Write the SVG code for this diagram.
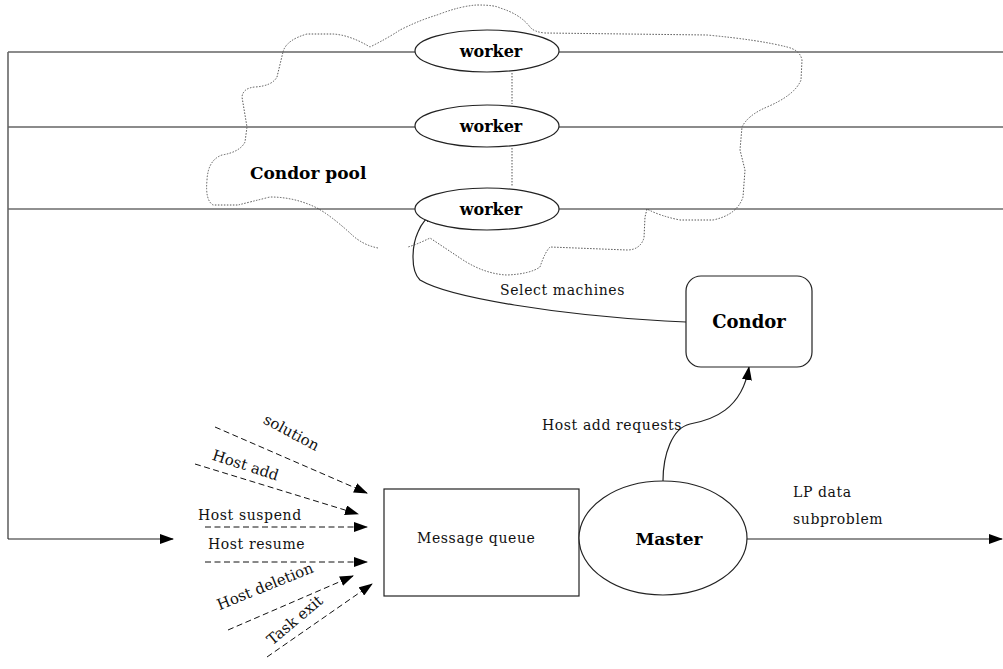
<svg xmlns="http://www.w3.org/2000/svg" width="1003" height="669" viewBox="0 0 1003 669">
<style>
.ln{fill:none;stroke:#222;stroke-width:1.2}
.lg{fill:none;stroke:#666;stroke-width:1.6}
.dash{fill:none;stroke:#111;stroke-width:1;stroke-dasharray:6 3.5}
.cloud{fill:none;stroke:#555;stroke-width:1;stroke-dasharray:1.5 1.5}
.shape{fill:#fff;stroke:#222;stroke-width:1.2}
.t{font-family:"DejaVu Serif","Liberation Serif",serif;font-size:14px;fill:#111;letter-spacing:0.6px}
.tr{font-family:"DejaVu Serif","Liberation Serif",serif;font-size:15px;fill:#111}
.b{font-family:"DejaVu Serif","Liberation Serif",serif;font-weight:bold;fill:#000}
</style>
<defs>
<marker id="ah" markerUnits="userSpaceOnUse" markerWidth="14" markerHeight="10" refX="13" refY="5" orient="auto">
<path d="M0,0 L14,5 L0,10 z" fill="#000"/>
</marker>
</defs>
<rect width="1003" height="669" fill="#fff"/>

<g id="cloud">
<path class="cloud" d="M283,52 Q286,40 307,34 L333,34 Q350,35 370,47 Q388,38 400,30 Q420,20 437,15 Q460,6 477,5 Q495,5 500,8 Q520,14 530,27 Q534,32 545,33 L707,35 Q760,40 787,47 Q800,50 802,60 L801,80 Q795,95 767,107 Q748,115 742,127 L740,150 L745,170 L743,197 Q737,215 713,220 L680,220 Q660,216 647,209 L645,217 L644,238 Q640,250 627,250 L550,247 Q545,252 540,267 Q530,274 507,275 Q485,274 463,260 L430,238 Q418,244 408,247 M378,248 Q362,245 350,233 Q330,215 317,208 Q295,197 270,197 Q250,202 238,205 L213,205 Q205,200 207,180 Q208,160 222,155 Q240,152 245,142 L247,127 L242,97 Q243,88 255,87 Q272,86 277,77 L283,52"/>
<path class="cloud" d="M512,73 L512,104 M512,148 L512,186"/>
</g>

<g id="connectors">
<path class="lg" d="M8,52 L415,52 M559,52 L1003,52"/>
<path class="lg" d="M8,127 L415,127 M559,127 L1003,127"/>
<path class="ln" d="M8,209 L415,209 M559,209 L1003,209"/>
<path class="lg" d="M8,52 L8,539"/>
<path class="ln" d="M8,539 L173,539" marker-end="url(#ah)"/>
<path class="ln" d="M686,322 L665,321 C560,315 450,298 420,280 C410,270 412,245 418,232 C422,222 428,216 436,211" marker-end="url(#ah)"/>
<path class="ln" d="M663,481 C663,455 672,428 690,424 C712,420 742,410 749,367" marker-end="url(#ah)"/>
<path class="ln" d="M747,539 L1002,539" marker-end="url(#ah)"/>
<path class="dash" d="M215,427 L367,493" marker-end="url(#ah)"/>
<path class="dash" d="M195,464 L358,514" marker-end="url(#ah)"/>
<path class="dash" d="M205,527 L367,527" marker-end="url(#ah)"/>
<path class="dash" d="M205,562 L367,562" marker-end="url(#ah)"/>
<path class="dash" d="M228,630 L353,576" marker-end="url(#ah)"/>
<path class="dash" d="M267,657 L372,584" marker-end="url(#ah)"/>
</g>

<g id="worker1">
<ellipse class="shape" cx="487" cy="51" rx="72" ry="21"/>
<text class="b" x="491" y="57" font-size="16" text-anchor="middle">worker</text>
</g>
<g id="worker2">
<ellipse class="shape" cx="487" cy="126" rx="72" ry="21"/>
<text class="b" x="491" y="132" font-size="16" text-anchor="middle">worker</text>
</g>
<g id="worker3">
<ellipse class="shape" cx="487" cy="209" rx="72" ry="21"/>
<text class="b" x="491" y="215" font-size="16" text-anchor="middle">worker</text>
</g>
<g id="condor-pool">
<text class="b" x="250" y="179" font-size="17">Condor pool</text>
</g>
<g id="condor">
<rect class="shape" x="686" y="276" width="126" height="91" rx="15"/>
<text class="b" x="749" y="328" font-size="18" text-anchor="middle">Condor</text>
</g>
<g id="message-queue">
<rect class="shape" x="384" y="489" width="195" height="107"/>
<text class="t" x="417" y="543">Message queue</text>
</g>
<g id="master">
<ellipse class="shape" cx="663" cy="538" rx="84" ry="57"/>
<text class="b" x="669" y="545" font-size="17" text-anchor="middle">Master</text>
</g>

<g id="labels">
<text class="t" x="500" y="295" letter-spacing="1.4">Select machines</text>
<text class="t" x="542" y="430">Host add requests</text>
<text class="t" x="793" y="497" letter-spacing="1.2">LP data</text>
<text class="t" x="793" y="524" letter-spacing="1.2">subproblem</text>
<text class="t" x="198" y="520">Host suspend</text>
<text class="t" x="208" y="549">Host resume</text>
<text class="tr" text-anchor="middle" transform="translate(289,437) rotate(28)">solution</text>
<text class="tr" text-anchor="middle" transform="translate(244,470) rotate(18)">Host add</text>
<text class="tr" text-anchor="middle" transform="translate(267,591) rotate(-22)">Host deletion</text>
<text class="tr" text-anchor="middle" transform="translate(298,624) rotate(-40)">Task exit</text>
</g>
</svg>
